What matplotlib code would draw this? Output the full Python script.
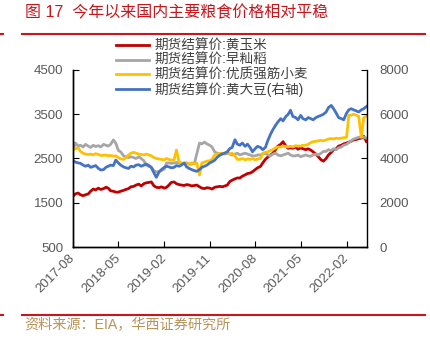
import pandas as pd
import matplotlib
matplotlib.use("Agg")
import matplotlib.pyplot as plt
import matplotlib.dates as mdates
from matplotlib.lines import Line2D

plt.rcParams["font.family"] = ["Liberation Sans", "Noto Sans CJK SC", "DejaVu Sans"]

# semi-monthly readings (1st and 15th), 2017-08 .. 2022-06
dates = pd.date_range("2017-08-01", "2022-06-01", freq="SMS")

corn = [1650, 1700, 1720, 1680, 1660, 1680, 1700, 1760, 1810, 1790,
        1830, 1800, 1820, 1850, 1830, 1770, 1760, 1740, 1740, 1760,
        1780, 1800, 1820, 1860, 1870, 1900, 1920, 1880, 1930, 1950,
        1960, 1970, 1880, 1850, 1840, 1860, 1830, 1850, 1900, 1960,
        1970, 1930, 1910, 1900, 1890, 1910, 1900, 1880, 1890, 1900,
        1860, 1830, 1820, 1840, 1830, 1810, 1850, 1860, 1870, 1860,
        1880, 1900, 1980, 2010, 2040, 2060, 2060, 2100, 2130, 2160,
        2170, 2200, 2250, 2290, 2320, 2400, 2480, 2530, 2580, 2620,
        2700, 2780, 2820, 2880, 2780, 2730, 2740, 2730, 2760, 2710,
        2740, 2720, 2700, 2720, 2690, 2650, 2600, 2540, 2470, 2440,
        2500, 2580, 2640, 2700, 2720, 2780, 2800, 2830, 2850, 2870,
        2890, 2920, 2930, 2950, 2960, 3000, 2880]

rice = [2700, 2850, 2780, 2800, 2760, 2820, 2780, 2750, 2800, 2770,
        2790, 2760, 2820, 2800, 2780, 2820, 2920, 2850, 2680, 2650,
        2560, 2540, 2520, 2540, 2520, 2500, 2540, 2500, 2450, 2350,
        2320, 2300, 2220, 2200, 2200, 2230, 2260, 2400, 2400, 2390,
        2400, 2410, 2400, 2390, 2380, 2400, 2380, 2370, 2390, 2600,
        2850, 2830, 2870, 2830, 2800, 2760, 2650, 2620, 2600, 2620,
        2600, 2620, 2600, 2580, 2600, 2620, 2580, 2600, 2620, 2600,
        2580, 2560, 2560, 2580, 2580, 2600, 2620, 2580, 2560, 2600,
        2620, 2580, 2560, 2580, 2600, 2620, 2580, 2560, 2560, 2580,
        2540, 2560, 2580, 2560, 2550, 2580, 2600, 2580, 2620, 2660,
        2660, 2700, 2680, 2720, 2700, 2740, 2760, 2800, 2820, 2860,
        2900, 2940, 2960, 2980, 2990, 2980, 2960]

wheat = [2690, 2720, 2740, 2660, 2620, 2600, 2590, 2600, 2580, 2610,
         2590, 2570, 2570, 2580, 2560, 2570, 2550, 2560, 2520, 2490,
         2480, 2520, 2580, 2620, 2640, 2620, 2600, 2590, 2580, 2600,
         2580, 2560, 2520, 2500, 2490, 2480, 2470, 2500, 2480, 2460,
         2470, 2690, 2420, 2400, 2380, 2400, 2360, 2400, 2380, 2400,
         2130, 2400, 2420, 2440, 2450, 2480, 2580, 2600, 2620, 2600,
         2620, 2650, 2600, 2620, 2560, 2480, 2480, 2500, 2470, 2490,
         2480, 2500, 2470, 2490, 2500, 2620, 2640, 2650, 2680, 2700,
         2740, 2760, 2760, 2780, 2770, 2760, 2780, 2760, 2790, 2780,
         2780, 2800, 2800, 2820, 2860, 2880, 2890, 2900, 2910, 2900,
         2920, 2940, 2950, 2940, 2960, 2950, 2960, 2970, 2980, 3480,
         3480, 3500, 3480, 3450, 2980, 3420, 3460]

soy = [3900, 3840, 3800, 3780, 3700, 3650, 3700, 3600, 3640, 3680,
       3550, 3480, 3500, 3600, 3650, 3700, 3680, 3930, 3800, 3700,
       3620, 3580, 3550, 3650, 3620, 3700, 3720, 3650, 3700, 3750,
       3680, 3600, 3350, 3150, 3400, 3500, 3600, 3650, 3620, 3580,
       3600, 3680, 3650, 3700, 3800, 3620, 3550, 3500, 3450, 3420,
       3500, 3600, 3650, 3700, 3800, 3850, 3920, 4050, 4150, 4200,
       4250, 4300, 4450, 4500, 4850, 4650, 4600, 4700, 4550, 4650,
       4500, 4300, 4450, 4550, 4500, 4400, 4500, 4800, 5100, 5300,
       5500, 5650, 5800, 5700, 5900, 6000, 6180, 5900, 5850, 5750,
       5950, 5800, 5750, 5850, 5800, 5750, 5850, 5900, 5950, 6000,
       6100, 6300, 6400, 6250, 6050, 5850, 5800, 5750, 6050, 6200,
       6250, 6200, 6150, 6100, 6200, 6250, 6350]

labels = ["期货结算价:黄玉米", "期货结算价:早籼稻",
          "期货结算价:优质强筋小麦", "期货结算价:黄大豆(右轴)"]
colors = ["#C00000", "#A6A6A6", "#FFC000", "#4472C4"]

tick_dates = pd.date_range("2017-08-01", periods=7, freq="9MS")

fig = plt.figure(figsize=(4.3, 3.39), dpi=100)
ax = fig.add_axes([73 / 430, 1 - 247 / 339, 294 / 430, 177 / 339])
ax2 = ax.twinx()

l1, = ax.plot(dates, corn, color=colors[0], lw=2.0)
l2, = ax.plot(dates, rice, color=colors[1], lw=2.0)
l3, = ax.plot(dates, wheat, color=colors[2], lw=2.0)
l4, = ax2.plot(dates, soy, color=colors[3], lw=2.0)

ax.set_ylim(500, 4500)
ax.set_yticks(range(500, 4501, 1000))
ax2.set_ylim(0, 8000)
ax2.set_yticks(range(0, 8001, 2000))
ax.set_xlim(pd.Timestamp("2017-08-01"), pd.Timestamp("2022-06-04"))
ax.set_xticks(tick_dates)
ax.xaxis.set_major_formatter(mdates.DateFormatter("%Y-%m"))

for a in (ax, ax2):
    a.spines["top"].set_visible(False)
    for s in a.spines.values():
        s.set_linewidth(1.0)
ax.spines["right"].set_visible(False)

ax.tick_params(axis="y", direction="in", length=4, pad=7, labelsize=9.5,
               labelcolor="#595959")
ax2.tick_params(axis="y", direction="in", length=4, pad=9, labelsize=9.5,
                labelcolor="#595959")
ax.tick_params(axis="x", direction="in", length=4, pad=7, labelsize=9.5,
               labelcolor="#595959")
for t in ax.get_xticklabels():
    t.set_rotation(45)
    t.set_ha("right")
    t.set_va("center")
    t.set_rotation_mode("anchor")

fig.legend([l1, l2, l3, l4], labels, loc="upper left",
           bbox_to_anchor=(116 / 430, 1 - 39 / 339), frameon=False,
           fontsize=9.8, handlelength=2.4, handletextpad=0.4, labelspacing=0.02,
           borderpad=0, borderaxespad=0, labelcolor="#404040")

fig.text(25 / 430, 1 - 13 / 339, "图 17  今年以来国内主要粮食价格相对平稳",
         color="#C8161D", fontsize=11.5, va="center")
fig.add_artist(Line2D([22 / 430, 425 / 430], [1 - 34 / 339] * 2,
                      color="#C8161D", lw=1.5))
fig.add_artist(Line2D([0, 3 / 430], [1 - 34 / 339] * 2, color="#C8161D", lw=1.5))
fig.add_artist(Line2D([22 / 430, 425 / 430], [1 - 315 / 339] * 2,
                      color="#C8161D", lw=1.5))
fig.add_artist(Line2D([0, 3 / 430], [1 - 315 / 339] * 2, color="#C8161D", lw=1.5))
fig.text(24 / 430, 1 - 325 / 339, "资料来源：EIA，华西证券研究所",
         color="#B8935A", fontsize=10.2, va="center")

fig.savefig("out.png", dpi=100)
